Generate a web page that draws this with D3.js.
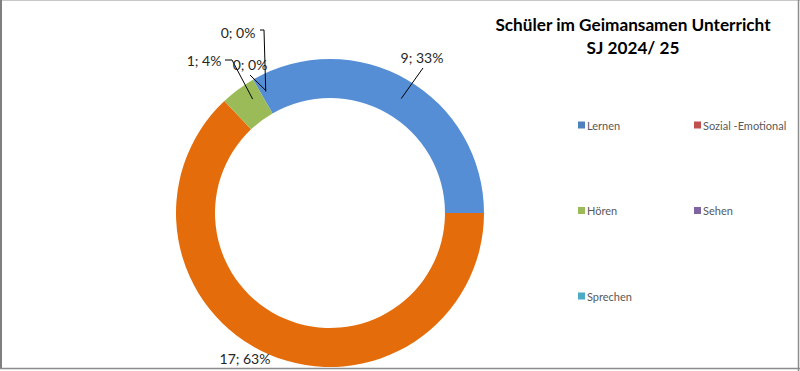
<!DOCTYPE html>
<html><head><meta charset="utf-8">
<script src="https://cdn.jsdelivr.net/npm/d3@7"></script>
<style>html,body{margin:0;padding:0;background:#fff}svg{display:block}</style>
</head><body>
<script>
const categories = ["Lernen", "Sozial -Emotional", "Hören", "Sehen", "Sprechen"];
const values = [9, 17, 1, 0, 0];
const sliceColors = ["#558ED5", "#E46C0A", "#9BBB59", "#8064A2", "#4BACC6"];
const legendColors = ["#4F81BD", "#C0504D", "#9BBB59", "#8064A2", "#4BACC6"];
const titleLines = ["Schüler im Geimansamen Unterricht", "SJ 2024/ 25"];
// label layout (text centre positions) for each slice
const labelPos = [[422, 57], [245, 358], [204, 60], [250, 64], [238, 32]];

const W = 800, H = 371;
const svg = d3.select("body").append("svg").attr("width", W).attr("height", H);
const font = "Lato, 'Open Sans', sans-serif";

svg.append("rect").attr("x", 0).attr("y", 0).attr("width", W).attr("height", H).attr("fill", "#fff");

const cx = 330, cy = 213, R = 154, r = 115;
const total = d3.sum(values);
const start = -30 * Math.PI / 180;
const pie = d3.pie().sort(null).value(d => d).startAngle(start).endAngle(start + 2 * Math.PI);
const arcs = pie(values);
const arc = d3.arc().innerRadius(r).outerRadius(R);
const g = svg.append("g").attr("transform", `translate(${cx},${cy})`);
g.selectAll("path").data(arcs).join("path").attr("d", arc)
  .attr("fill", (d, i) => sliceColors[i]);

// data labels
const midR = (R + r) / 2;
arcs.forEach((d, i) => {
  const a = (d.startAngle + d.endAngle) / 2;
  const ax = cx + midR * Math.sin(a), ay = cy - midR * Math.cos(a);
  const [lx, ly] = labelPos[i];
  const pct = Math.round(values[i] / total * 100);
  const txt = `${values[i]}; ${pct}%`;
  let pts = null;
  if (i === 0) pts = [[lx + 1, ly + 11], [ax + 4, ay + 2]];
  if (i === 2) pts = [[lx + 21, ly], [lx + 28, ly], [ax + 3, ay - 6]];
  if (i === 3) pts = [[lx, ly + 11], [ax + 3, ay - 6]];
  if (i === 4) pts = [[lx + 22, ly - 2], [lx + 26, ly - 2], [ax + 3, ay - 5]];
  if (pts) svg.append("polyline").attr("points", pts.map(p => p.join(",")).join(" "))
    .attr("fill", "none").attr("stroke", "#000").attr("stroke-width", 1);
  svg.append("text").attr("x", lx).attr("y", ly).attr("text-anchor", "middle")
    .attr("dominant-baseline", "central").attr("font-family", font).attr("font-size", 14)
    .attr("fill", "#262626").text(txt);
});

// title
svg.append("g").selectAll("text").data(titleLines).join("text")
  .attr("x", 633).attr("y", (d, i) => 31 + i * 23).attr("text-anchor", "middle")
  .attr("font-family", font).attr("font-weight", "bold").attr("font-size", 17.2)
  .attr("fill", "#000").text(d => d);

// legend
const lg = svg.append("g");
categories.forEach((c, i) => {
  const col = i % 2, row = Math.floor(i / 2);
  const x = 578 + col * 116, y = 125 + row * 85.5;
  lg.append("rect").attr("x", x).attr("y", y - 3.5).attr("width", 7).attr("height", 7).attr("fill", legendColors[i]);
  lg.append("text").attr("x", x + 9).attr("y", y).attr("dominant-baseline", "central")
    .attr("font-family", font).attr("font-size", 11).attr("fill", "#595959").text(c);
});

// chart border
svg.append("line").attr("x1", 0).attr("x2", W).attr("y1", 0.5).attr("y2", 0.5).attr("stroke", "#C8C8C8");
svg.append("line").attr("x1", 1).attr("x2", 1).attr("y1", 0).attr("y2", H - 2).attr("stroke", "#7F7F7F").attr("stroke-width", 2);
svg.append("line").attr("x1", 0).attr("x2", W).attr("y1", H - 2.5).attr("y2", H - 2.5).attr("stroke", "#8C8C8C").attr("stroke-width", 1.5);
svg.append("line").attr("x1", W - 1.5).attr("x2", W - 1.5).attr("y1", 0).attr("y2", H).attr("stroke", "#8C8C8C").attr("stroke-width", 1.5);
</script>
</body></html>
